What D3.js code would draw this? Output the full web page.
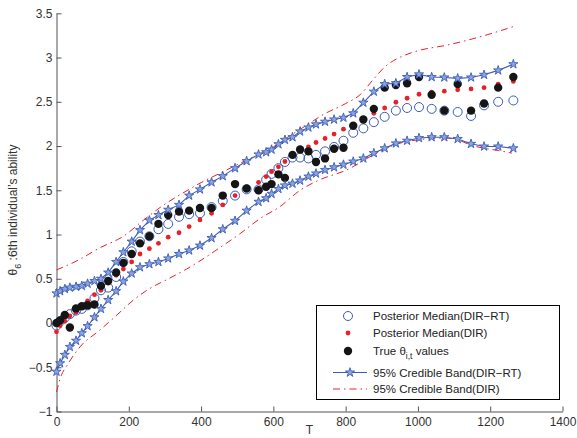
<!DOCTYPE html>
<html>
<head>
<meta charset="utf-8">
<script src="https://cdn.jsdelivr.net/npm/d3@7"></script>
<style>
  body { margin: 0; background: #fff; }
  svg { font-family: 'Liberation Sans', Arial, sans-serif; }
  .axis path, .axis line { stroke: #555; }
  .axis text { fill: #333; font-size: 12px; }
</style>
</head>
<body>
<script>
// observation times shared by the markers
var times = [0, 10, 23, 37, 54, 70, 86, 105, 123, 143, 165, 185, 208, 231, 257, 282, 309, 339, 367, 397,
  429, 460, 494, 526, 559, 580, 595, 614, 632, 653, 674, 697, 718, 743, 768, 794, 821, 849, 878, 908,
  939, 970, 1003, 1038, 1073, 1110, 1147, 1183, 1222, 1264];

// posterior median, DIR-RT (open blue circles)
var medianRT = [-0.03, 0.02, 0.06, 0.10, 0.14, 0.16, 0.20, 0.28, 0.37, 0.40, 0.52, 0.69, 0.81, 0.92, 0.98, 1.06, 1.12, 1.20, 1.23, 1.24,
  1.31, 1.38, 1.44, 1.51, 1.51, 1.62, 1.685, 1.75, 1.82, 1.87, 1.87, 1.86, 1.90, 1.94, 1.99, 2.06, 2.15, 2.20, 2.27, 2.33,
  2.40, 2.43, 2.44, 2.42, 2.40, 2.385, 2.34, 2.46, 2.50, 2.515];

// posterior median, DIR (red dots)
var medianDIR = [-0.10, -0.03, 0.02, 0.08, 0.12, 0.17, 0.25, 0.32, 0.37, 0.45, 0.54, 0.61, 0.69, 0.78, 0.84, 0.90, 0.97, 1.02, 1.09, 1.165,
  1.24, 1.335, 1.44, 1.51, 1.59, 1.655, 1.71, 1.765, 1.825, 1.89, 1.94, 1.99, 2.04, 2.085, 2.135, 2.19, 2.245, 2.31, 2.37, 2.43,
  2.495, 2.54, 2.585, 2.61, 2.62, 2.635, 2.645, 2.66, 2.70, 2.73];

// true theta values (black dots)
var trueTheta = [0.00, 0.03, 0.09, -0.05, 0.165, 0.19, 0.20, 0.21, 0.42, 0.475, 0.57, 0.68, 0.78, 0.90, 0.98, 1.12, 1.22, 1.26, 1.27, 1.30,
  1.30, 1.44, 1.57, 1.52, 1.50, 1.54, 1.57, 1.68, 1.64, 1.90, 1.96, 1.94, 1.82, 1.86, 1.97, 1.98, 2.23, 2.30, 2.42, 2.66,
  2.69, 2.71, 2.78, 2.58, 2.40, 2.70, 2.40, 2.48, 2.66, 2.78];

// 95% band, DIR-RT (blue stars)
var upperRT = [0.335, 0.36, 0.385, 0.40, 0.41, 0.42, 0.445, 0.475, 0.50, 0.57, 0.69, 0.80, 0.92, 1.05, 1.16, 1.22, 1.28, 1.335, 1.44, 1.51,
  1.59, 1.66, 1.75, 1.83, 1.905, 1.93, 1.96, 2.02, 2.07, 2.10, 2.165, 2.21, 2.245, 2.275, 2.30, 2.32, 2.37, 2.49, 2.615, 2.70,
  2.71, 2.78, 2.81, 2.78, 2.775, 2.765, 2.775, 2.805, 2.855, 2.925];
var lowerRT = [-0.55, -0.455, -0.36, -0.27, -0.20, -0.115, -0.035, 0.065, 0.16, 0.26, 0.36, 0.47, 0.56, 0.63, 0.665, 0.69, 0.73, 0.78, 0.82, 0.875,
  0.96, 1.06, 1.155, 1.27, 1.37, 1.41, 1.46, 1.515, 1.555, 1.575, 1.61, 1.655, 1.69, 1.73, 1.76, 1.79, 1.825, 1.86, 1.92, 1.975,
  2.03, 2.06, 2.09, 2.10, 2.10, 2.08, 2.025, 1.995, 1.995, 1.975];

// 95% band, DIR (red dash-dot)
var upperDIRt = [0, 60, 120, 185, 240, 295, 342, 397, 461, 525, 600, 640, 690, 740, 800, 840, 876, 910, 960, 1003, 1080, 1150, 1210, 1264];
var upperDIR = [0.60, 0.71, 0.85, 0.98, 1.16, 1.33, 1.45, 1.58, 1.71, 1.84, 1.99, 2.10, 2.23, 2.36, 2.48, 2.58, 2.75, 2.90, 3.02, 3.08, 3.14, 3.21, 3.28, 3.35];
var lowerDIRt = [0, 10, 33, 65, 120, 167, 213, 258, 305, 360, 400, 455, 508, 563, 618, 674, 729, 803, 877, 940, 1000, 1073, 1110, 1147, 1183, 1222, 1260];
var lowerDIR = [-0.78, -0.63, -0.455, -0.27, -0.08, 0.09, 0.26, 0.39, 0.49, 0.61, 0.71, 0.86, 1.01, 1.18, 1.315, 1.50, 1.62, 1.73, 1.90, 2.02, 2.07, 2.09, 2.07, 2.01, 1.975, 1.95, 1.92];

var xTicks = [0, 200, 400, 600, 800, 1000, 1200, 1400];
var yTicks = [-1, -0.5, 0, 0.5, 1, 1.5, 2, 2.5, 3, 3.5];

var legendLabels = ["Posterior Median(DIR\u2212RT)", "Posterior Median(DIR)", "True \u03b8", "95% Credible Band(DIR\u2212RT)", "95% Credible Band(DIR)"];

var width = 577, height = 438;
var blue = "#3b5cb8", red = "#e8202a", starFill = "#8ea3dc";

var x = d3.scaleLinear().domain([0, 1400]).range([56.5, 562.5]);
var y = d3.scaleLinear().domain([-1, 3.5]).range([411.5, 13.3]);

var svg = d3.select("body").append("svg")
  .attr("width", width)
  .attr("height", height);

// axes
svg.append("g").attr("class", "axis")
  .attr("transform", "translate(0," + y(-1) + ")")
  .call(d3.axisBottom(x).tickValues(xTicks).tickSize(-5).tickPadding(6).tickSizeOuter(0).tickFormat(d3.format("d")));
svg.append("g").attr("class", "axis")
  .attr("transform", "translate(" + x(0) + ",0)")
  .call(d3.axisLeft(y).tickValues(yTicks).tickSize(-5).tickPadding(4).tickSizeOuter(0).tickFormat(d3.format("")));

var pts = times.map((t, i) => ({ t: t, rt: medianRT[i], dir: medianDIR[i], tr: trueTheta[i], up: upperRT[i], lo: lowerRT[i] }));

// red dash-dot bands
var dash = "7,4,1.5,4";
var smooth = d3.line().x(d => x(d[0])).y(d => y(d[1])).curve(d3.curveMonotoneX);
[[upperDIRt, upperDIR], [lowerDIRt, lowerDIR]].forEach(function (s) {
  svg.append("path")
    .attr("d", smooth(d3.zip(s[0], s[1])))
    .attr("fill", "none")
    .attr("stroke", red)
    .attr("stroke-width", 1)
    .attr("stroke-dasharray", dash);
});

// markers
svg.append("g").selectAll("circle").data(pts).enter().append("circle")
  .attr("cx", d => x(d.t)).attr("cy", d => y(d.rt)).attr("r", 4.5)
  .attr("fill", "none").attr("stroke", blue).attr("stroke-width", 1);
svg.append("g").selectAll("circle").data(pts).enter().append("circle")
  .attr("cx", d => x(d.t)).attr("cy", d => y(d.dir)).attr("r", 2.4)
  .attr("fill", red);
svg.append("g").selectAll("circle").data(pts).enter().append("circle")
  .attr("cx", d => x(d.t)).attr("cy", d => y(d.tr)).attr("r", 4.2)
  .attr("fill", "#151515");

// blue star bands
var star = d3.symbol().type(d3.symbolStar).size(26);
["up", "lo"].forEach(function (k) {
  svg.append("path")
    .attr("d", d3.line().x(d => x(d.t)).y(d => y(d[k]))(pts))
    .attr("fill", "none").attr("stroke", blue).attr("stroke-width", 1.1);
  svg.append("g").selectAll("path").data(pts).enter().append("path")
    .attr("d", star)
    .attr("transform", d => "translate(" + x(d.t) + "," + y(d[k]) + ")")
    .attr("fill", starFill).attr("stroke", blue).attr("stroke-width", 0.9);
});

// axis titles
svg.append("text").attr("x", x(700)).attr("y", 434).attr("text-anchor", "middle")
  .attr("font-size", 12).attr("fill", "#333").text("T");
var yl = svg.append("text").attr("transform", "translate(17,210) rotate(-90)")
  .attr("text-anchor", "middle").attr("font-size", 12).attr("fill", "#333");
yl.append("tspan").text("\u03b8");
yl.append("tspan").attr("dy", 4).attr("font-size", 9).text("6");
yl.append("tspan").attr("dy", -4).text(" :6th individual\u2019s ability");

// legend
var lg = svg.append("g");
lg.append("rect").attr("x", 316.5).attr("y", 305.5).attr("width", 243).attr("height", 94)
  .attr("fill", "#fff").attr("stroke", "#000").attr("stroke-width", 1);
var rows = [316, 333, 351, 372.5, 389];
lg.append("circle").attr("cx", 348).attr("cy", rows[0]).attr("r", 4.5)
  .attr("fill", "none").attr("stroke", blue);
lg.append("circle").attr("cx", 348).attr("cy", rows[1]).attr("r", 2.4).attr("fill", red);
lg.append("circle").attr("cx", 348).attr("cy", rows[2]).attr("r", 4.2).attr("fill", "#151515");
lg.append("line").attr("x1", 333).attr("x2", 367).attr("y1", rows[3]).attr("y2", rows[3])
  .attr("stroke", blue).attr("stroke-width", 1.1);
lg.append("path").attr("d", star).attr("transform", "translate(350," + rows[3] + ")")
  .attr("fill", starFill).attr("stroke", blue).attr("stroke-width", 0.9);
lg.append("line").attr("x1", 333).attr("x2", 367).attr("y1", rows[4]).attr("y2", rows[4])
  .attr("stroke", red).attr("stroke-dasharray", dash);
legendLabels.forEach(function (lab, i) {
  var t = lg.append("text").attr("x", 373).attr("y", rows[i] + 4)
    .attr("font-size", 11.5).attr("fill", "#222").text(lab);
  if (i == 2) {
    t.append("tspan").attr("dy", 4).attr("font-size", 8.5).text("i,t");
    t.append("tspan").attr("dy", -4).text(" values");
  }
});
</script>
</body>
</html>
